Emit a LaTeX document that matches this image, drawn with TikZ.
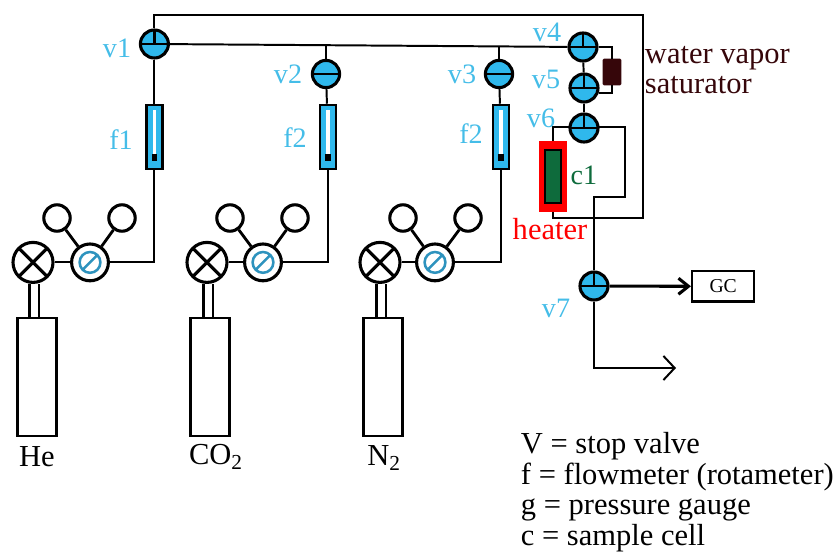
\documentclass[tikz,border=0pt]{standalone}
\usepackage{fontspec}
\setmainfont{Liberation Serif}
\usetikzlibrary{arrows.meta}
\definecolor{valveblue}{HTML}{2FB8EC}
\definecolor{labelblue}{HTML}{45BDE8}
\definecolor{gaugeblue}{HTML}{2E93BE}
\definecolor{saturatorbrown}{HTML}{36060A}
\definecolor{cellgreen}{HTML}{0E6B3C}

\begin{document}
\begin{tikzpicture}[line width=1.4pt]
    %
    % `valve' is the stop valve with a horizontal bar only (v2, v3).
    % `tvalve' has the short upright bar as well.
    % `reducer' is the regulator next to each bottle.
    \tikzstyle{valve} = [draw,fill=valveblue,shape=circle,line width=2.2pt,minimum size=0.68cm,inner sep=0pt,path picture={\draw[line width=2pt] (path picture bounding box.west) -- (path picture bounding box.east);}]
    \tikzstyle{tvalve} = [draw,fill=valveblue,shape=circle,line width=2.2pt,minimum size=0.7cm,inner sep=0pt,path picture={\draw[line width=2pt] (path picture bounding box.west) -- (path picture bounding box.east) (path picture bounding box.center) -- (path picture bounding box.north);}]
    \tikzstyle{crossvalve} = [draw,fill=white,shape=circle,line width=2.2pt,minimum size=1cm,inner sep=0pt,path picture={\draw[line width=2.2pt] (path picture bounding box.south west) -- (path picture bounding box.north east) (path picture bounding box.north west) -- (path picture bounding box.south east);}]
    \tikzstyle{reducer} = [draw,fill=white,shape=circle,line width=2.2pt,minimum size=0.92cm,inner sep=0pt,path picture={\draw[gaugeblue,line width=1.8pt] (path picture bounding box.center) circle (0.26cm) ++(-0.17,-0.17) -- ++(0.34,0.34);}]
    \tikzstyle{dial} = [draw,fill=white,shape=circle,line width=2.2pt,minimum size=0.66cm,inner sep=0pt]
    \tikzstyle{meter} = [draw,fill=valveblue,line width=1.8pt,minimum width=0.4cm,minimum height=1.6cm,inner sep=0pt,path picture={\fill[white] ([xshift=-0.04cm,yshift=-0.12cm]path picture bounding box.north) rectangle ([xshift=0.04cm,yshift=0.3cm]path picture bounding box.south); \fill[black] ([xshift=-0.07cm,yshift=0.2cm]path picture bounding box.south) rectangle ([xshift=0.07cm,yshift=0.38cm]path picture bounding box.south);}]
    \tikzstyle{bottle} = [draw,fill=white,line width=1.8pt,minimum width=0.97cm,minimum height=2.95cm,inner sep=0pt]
    \tikzstyle{tag} = [text=labelblue,font=\fontsize{20}{22}\selectfont,inner sep=0pt]
    \tikzstyle{gas} = [font=\fontsize{21.7}{21.8}\selectfont,inner sep=0pt]
    %
    \useasboundingbox (0,0) rectangle (21,-13.825);
    %
    % Main valves
    \node[tvalve] (v1) at (3.86,-1.1) {};
    \node[valve] (v2) at (8.15,-1.85) {};
    \node[valve] (v3) at (12.475,-1.85) {};
    \node[tvalve] (v4) at (14.575,-1.175) {};
    \node[tvalve] (v5) at (14.6,-2.2) {};
    \node[tvalve] (v6) at (14.6,-3.2) {};
    \node[tvalve] (v7) at (14.85,-7.15) {};
    %
    % Flowmeters
    \node[meter] (m1) at (3.86,-3.425) {};
    \node[meter] (m2) at (8.2,-3.425) {};
    \node[meter] (m3) at (12.525,-3.425) {};
    %
    % He line
    \node[crossvalve] (x1) at (0.825,-6.56) {};
    \node[reducer] (r1) at (2.25,-6.56) {};
    \node[dial] (d11) at (1.425,-5.45) {} edge [line width=2pt] (r1);
    \node[dial] (d12) at (3.05,-5.45) {} edge [line width=2pt] (r1);
    \node[bottle] (b1) at (0.925,-9.425) {};
    \draw (x1) -- (r1);
    \draw (m1) |- (r1);
    %
    % CO2 line
    \node[crossvalve] (x2) at (5.175,-6.56) {};
    \node[reducer] (r2) at (6.575,-6.56) {};
    \node[dial] (d21) at (5.75,-5.45) {} edge [line width=2pt] (r2);
    \node[dial] (d22) at (7.375,-5.45) {} edge [line width=2pt] (r2);
    \node[bottle] (b2) at (5.25,-9.425) {};
    \draw (x2) -- (r2);
    \draw (m2) |- (r2);
    %
    % N2 line
    \node[crossvalve] (x3) at (9.5,-6.56) {};
    \node[reducer] (r3) at (10.875,-6.56) {};
    \node[dial] (d31) at (10.075,-5.45) {} edge [line width=2pt] (r3);
    \node[dial] (d32) at (11.7,-5.45) {} edge [line width=2pt] (r3);
    \node[bottle] (b3) at (9.575,-9.425) {};
    \draw (x3) -- (r3);
    \draw (m3) |- (r3);
    %
    % Bottle necks
    \draw[line width=1.8pt] (x1.south) ++(-0.09,0) coordinate (n11) -- (n11 |- b1.north);
    \draw[line width=1.8pt] (x1.south) ++(0.15,0) coordinate (n12) -- (n12 |- b1.north);
    \draw[line width=1.8pt] (x2.south) ++(-0.09,0) coordinate (n21) -- (n21 |- b2.north);
    \draw[line width=1.8pt] (x2.south) ++(0.15,0) coordinate (n22) -- (n22 |- b2.north);
    \draw[line width=1.8pt] (x3.south) ++(-0.09,0) coordinate (n31) -- (n31 |- b3.north);
    \draw[line width=1.8pt] (x3.south) ++(0.15,0) coordinate (n32) -- (n32 |- b3.north);
    %
    % Saturator and cell
    \node[draw=saturatorbrown,fill=saturatorbrown,minimum width=0.42cm,minimum height=0.62cm,inner sep=0pt,rounded corners=0.5pt] (sat) at (15.3,-1.8) {};
    \node[draw=red,fill=red,minimum width=0.65cm,minimum height=1.72cm,inner sep=0pt] (heat) at (13.825,-4.41) {};
    \node[draw,fill=cellgreen,line width=1.8pt,minimum width=0.4cm,minimum height=1.32cm,inner sep=0pt] (c1) at (13.825,-4.41) {};
    %
    % GC and the ends of the outlet
    \node[draw,fill=white,line width=1.8pt,minimum width=1.55cm,minimum height=0.76cm,inner sep=0pt,font=\fontsize{14}{16}\selectfont] (gc) at (18.08,-7.16) {GC};
    \coordinate (out) at (16.9,-9.2);
    \coordinate (tr) at (16.075,-0.375);
    \coordinate (br) at (16.075,-5.45);
    \coordinate (bend) at (15.625,-4.925);
    \coordinate (j2) at (8.15,-1.14);
    \coordinate (j3) at (12.475,-1.155);
    %
    % Piping
    \draw (v1) |- (tr) -- (br) -| (heat.south);
    \draw (v1) -- (v4);
    \draw (v1) -- (m1);
    \draw (v2) -- (j2);
    \draw (v3) -- (j3);
    \draw (v2) -- (m2);
    \draw (v3) -- (m3);
    \draw (v4) -- (v5);
    \draw (v5) -- (v6);
    \draw (v4) -| (sat.north);
    \draw (sat.south) |- (v5.-20);
    \draw (v6.175) -| (heat.north);
    \draw (v6.5) -| (bend) -| (v7);
    \draw[line width=2.2pt,-{Straight Barb[length=0.25cm,width=0.4cm]}] (v7) -- (gc);
    \draw[-{Straight Barb[length=0.28cm,width=0.6cm]}] (v7) |- (out);
    %
    % Labels
    \node[tag] (lv1) at (2.925,-1.2) {v1};
    \node[tag] (lf1) at (3.025,-3.5) {f1};
    \node[tag] (lv2) at (7.2,-1.85) {v2};
    \node[tag] (lf2) at (7.375,-3.45) {f2};
    \node[tag] (lv3) at (11.55,-1.85) {v3};
    \node[tag] (lf3) at (11.775,-3.35) {f2};
    \node[tag] (lv4) at (13.675,-0.8) {v4};
    \node[tag] (lv5) at (13.65,-1.975) {v5};
    \node[tag] (lv6) at (13.525,-2.95) {v6};
    \node[tag] (lv7) at (13.9,-7.7) {v7};
    \node[tag,text=cellgreen] (lc1) at (14.6,-4.375) {c1};
    \node[gas,text=red] (lheat) at (13.75,-5.725) {heater};
    \node[gas,text=saturatorbrown,anchor=west,align=left] (lsat) at (16.1,-1.75) {water vapor\\saturator};
    \node[gas] (lb1) at (0.925,-11.425) {He};
    \node[gas] (lb2) at (5.4,-11.425) {CO\textsubscript{2}};
    \node[gas] (lb3) at (9.6,-11.45) {N\textsubscript{2}};
    \node[gas,anchor=north west,align=left] (legend) at (13,-10.78) {V = stop valve\\f = flowmeter (rotameter)\\g = pressure gauge\\c = sample cell};
    %
\end{tikzpicture}
\end{document}
